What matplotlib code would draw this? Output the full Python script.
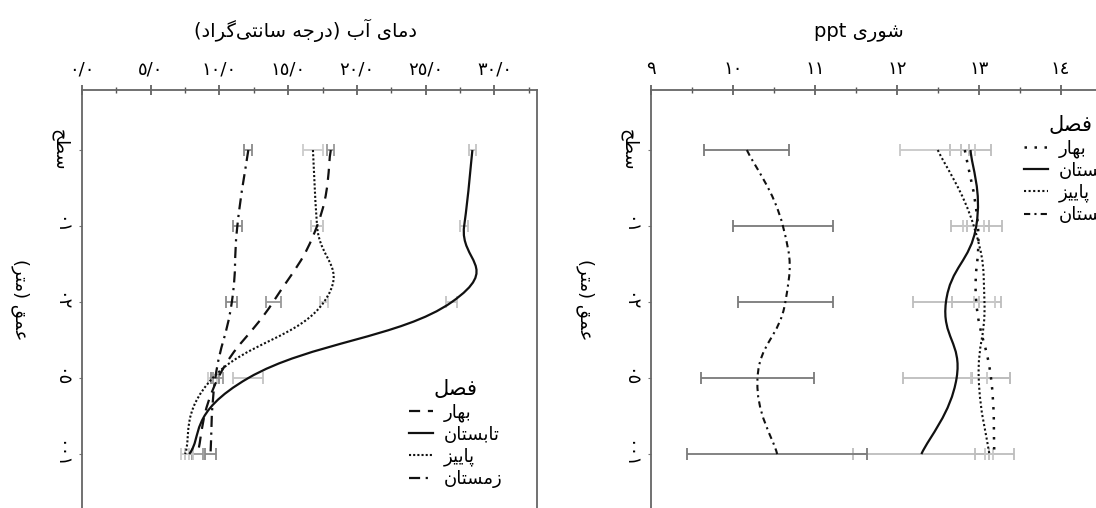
import re
import numpy as np
import matplotlib
matplotlib.use('Agg')
import matplotlib.pyplot as plt
from matplotlib.path import Path
from matplotlib.patches import PathPatch
from matplotlib.lines import Line2D
from matplotlib.ticker import MultipleLocator

plt.rcParams['font.family'] = ['DejaVu Sans']

# depth categories (top to bottom)
depths = ['سطح', '١٠', '٢٠', '٥٠', '١٠٠']
seasons = ['بهار', 'تابستان', 'پاییز', 'زمستان']

# water temperature (C)
temp_spring = [18.1, 17.1, 13.9, 9.9, 8.4]
temp_summer = [28.4, 27.8, 26.9, 12.1, 7.8]
temp_autumn = [16.8, 17.1, 17.6, 9.5, 7.5]
temp_winter = [12.1, 11.3, 10.9, 9.7, 9.35]
temp_spring_err = [0.25, 0.45, 0.55, 0.35, 0.4]
temp_summer_err = [0.25, 0.3, 0.4, 1.1, 0.3]
temp_autumn_err = [0.7, 0.45, 0.3, 0.3, 0.3]
temp_winter_err = [0.3, 0.35, 0.4, 0.3, 0.4]
temp_ticks = [0, 5, 10, 15, 20, 25, 30]
temp_labels = ['٠/٠', '٥/٠', '١٠/٠', '١٥/٠', '٢٠/٠', '٢٥/٠', '٣٠/٠']

# salinity (ppt)
sal_spring = [12.83, 12.99, 12.97, 13.15, 13.19]
sal_summer = [12.90, 12.97, 12.60, 12.73, 12.30]
sal_autumn = [12.50, 12.94, 13.07, 13.00, 13.13]
sal_winter = [10.17, 10.61, 10.64, 10.30, 10.54]
sal_spring_err = [0.05, 0.13, 0.3, 0.23, 0.24]
sal_summer_err = [0.25, 0.31, 0.4, 0.65, 0.83]
sal_autumn_err = [0.46, 0.13, 0.13, 0.1, 0.05]
sal_winter_err = [0.52, 0.61, 0.58, 0.69, 1.1]
sal_ticks = [9, 10, 11, 12, 13, 14]
sal_labels = ['٩', '١٠', '١١', '١٢', '١٣', '١٤']

# persian letters -> (isolated, final, initial, medial)
FORMS = {
    'ا': ('\uFE8D', '\uFE8E', None, None),
    'آ': ('\uFE81', '\uFE82', None, None),
    'ب': ('\uFE8F', '\uFE90', '\uFE91', '\uFE92'),
    'پ': ('\uFB56', '\uFB57', '\uFB58', '\uFB59'),
    'ت': ('\uFE95', '\uFE96', '\uFE97', '\uFE98'),
    'ج': ('\uFE9D', '\uFE9E', '\uFE9F', '\uFEA0'),
    'ح': ('\uFEA1', '\uFEA2', '\uFEA3', '\uFEA4'),
    'د': ('\uFEA9', '\uFEAA', None, None),
    'ر': ('\uFEAD', '\uFEAE', None, None),
    'ز': ('\uFEAF', '\uFEB0', None, None),
    'س': ('\uFEB1', '\uFEB2', '\uFEB3', '\uFEB4'),
    'ش': ('\uFEB5', '\uFEB6', '\uFEB7', '\uFEB8'),
    'ص': ('\uFEB9', '\uFEBA', '\uFEBB', '\uFEBC'),
    'ط': ('\uFEC1', '\uFEC2', '\uFEC3', '\uFEC4'),
    'ع': ('\uFEC9', '\uFECA', '\uFECB', '\uFECC'),
    'ف': ('\uFED1', '\uFED2', '\uFED3', '\uFED4'),
    'ق': ('\uFED5', '\uFED6', '\uFED7', '\uFED8'),
    'گ': ('\uFB92', '\uFB93', '\uFB94', '\uFB95'),
    'ل': ('\uFEDD', '\uFEDE', '\uFEDF', '\uFEE0'),
    'م': ('\uFEE1', '\uFEE2', '\uFEE3', '\uFEE4'),
    'ن': ('\uFEE5', '\uFEE6', '\uFEE7', '\uFEE8'),
    'ه': ('\uFEE9', '\uFEEA', '\uFEEB', '\uFEEC'),
    'و': ('\uFEED', '\uFEEE', None, None),
    'ی': ('\uFBFC', '\uFBFD', '\uFBFE', '\uFBFF'),
}


def fa(s):
    '''shape persian text and put it in visual order (no bidi lib here)'''
    out = []
    for i, c in enumerate(s):
        if c not in FORMS:
            out.append(c)
            continue
        p = s[i - 1] if i > 0 else ''
        n = s[i + 1] if i + 1 < len(s) else ''
        jp = p in FORMS and FORMS[p][2] is not None
        jn = n in FORMS and FORMS[c][2] is not None
        iso, fin, ini, med = FORMS[c]
        if jp and jn:
            out.append(med)
        elif jp:
            out.append(fin)
        elif jn:
            out.append(ini)
        else:
            out.append(iso)
    vis = ''.join(out).replace('\u200c', '')[::-1]
    vis = vis.translate(str.maketrans('()', ')('))
    vis = re.sub(r'[A-Za-z0-9]+', lambda m: m.group(0)[::-1], vis)
    return vis


def smooth(ax, xs, ys, k=1.4, **kw):
    '''excel-like smoothed line through the points (bezier segments)'''
    pts = np.column_stack([xs, ys]).astype(float)
    n = len(pts)
    verts = [pts[0]]
    codes = [Path.MOVETO]
    for i in range(n - 1):
        p0 = pts[max(i - 1, 0)]
        p1 = pts[i]
        p2 = pts[i + 1]
        p3 = pts[min(i + 2, n - 1)]
        verts += [p1 + k * (p2 - p0) / 6, p2 - k * (p3 - p1) / 6, p2]
        codes += [Path.CURVE4] * 3
    ax.add_patch(PathPatch(Path(verts, codes), fill=False, **kw))


W, H = 1096, 508
fig = plt.figure(figsize=(W / 100, H / 100), dpi=100)
ypos = np.arange(len(depths))


def setup(ax, ticks, labels, minor, xlim):
    ax.set_xlim(*xlim)
    ax.set_ylim(4.71, -0.79)
    ax.xaxis.tick_top()
    ax.set_xticks(ticks)
    ax.set_xticklabels(labels, fontsize=13)
    ax.xaxis.set_minor_locator(MultipleLocator(minor))
    ax.set_yticks(ypos)
    ax.set_yticklabels([fa(d) for d in depths], rotation=270, fontsize=13,
                       va='center', ha='center')
    ax.tick_params(axis='x', which='major', direction='inout', length=7,
                   width=1.2, color='#555555', pad=5)
    ax.tick_params(axis='x', which='minor', direction='inout', length=4,
                   width=1, color='#555555')
    ax.tick_params(axis='y', direction='out', length=2, color='#777777', pad=14)
    for s in ['top', 'left', 'right']:
        ax.spines[s].set_color('#666666')
        ax.spines[s].set_linewidth(1.3)
    ax.spines['bottom'].set_visible(False)


styles_left = {
    'spring': dict(ls=(0, (5, 3.5)), lw=1.6),
    'summer': dict(ls='-', lw=1.6),
    'autumn': dict(ls=(0, (1, 1)), lw=1.5),
    'winter': dict(ls=(0, (5, 2.5, 1, 2.5)), lw=1.6),
}
styles_right = {
    'spring': dict(ls=(0, (1, 3)), lw=1.8),
    'summer': dict(ls='-', lw=1.6),
    'autumn': dict(ls=(0, (1, 1.2)), lw=1.5),
    'winter': dict(ls=(0, (3, 2, 1, 2)), lw=1.5),
}

leg_kw = dict(bbox_transform=fig.transFigure, frameon=False, fontsize=13,
              title_fontsize=15, handlelength=1.3, handletextpad=0.6,
              labelspacing=0.22, borderpad=0, loc='upper left')

# ---- left: temperature
ax1 = fig.add_axes([82 / W, 0, 455 / W, 1 - 90 / H])
setup(ax1, temp_ticks, temp_labels, 2.5, (0, 33.1))
ax1.spines['right'].set_visible(True)

left_series = [
    ('spring', temp_spring, temp_spring_err, '#999999'),
    ('summer', temp_summer, temp_summer_err, '#c4c4c4'),
    ('autumn', temp_autumn, temp_autumn_err, '#cccccc'),
    ('winter', temp_winter, temp_winter_err, '#8a8a8a'),
]
for key, vals, err, ec in left_series:
    ax1.errorbar(vals, ypos, xerr=err, fmt='none', ecolor=ec, elinewidth=1.3,
                 capsize=4, capthick=1.3, zorder=2)
for key, vals, err, ec in left_series:
    smooth(ax1, vals, ypos, ec='#111111', zorder=3, **styles_left[key])

h1 = [Line2D([], [], color='#111111', **styles_left[k]) for k, *_ in left_series]
ax1.legend(h1, [fa(s) for s in seasons], title=fa('فصل'),
           bbox_to_anchor=(400 / W, 1 - 370 / H), **leg_kw)

fig.text(305 / W, 1 - 30 / H, fa('دمای آب (درجه سانتی\u200cگراد)'),
         ha='center', va='center', fontsize=14)
fig.text(20 / W, 1 - 300 / H, fa('عمق (متر)'), rotation=270,
         ha='center', va='center', fontsize=13)

# ---- right: salinity
ax2 = fig.add_axes([651 / W, 0, 467 / W, 1 - 90 / H])
setup(ax2, sal_ticks, sal_labels, 0.5, (9, 14.7))
ax2.spines['right'].set_visible(False)

right_series = [
    ('spring', sal_spring, sal_spring_err, '#bdbdbd'),
    ('summer', sal_summer, sal_summer_err, '#bdbdbd'),
    ('autumn', sal_autumn, sal_autumn_err, '#c8c8c8'),
    ('winter', sal_winter, sal_winter_err, '#7a7a7a'),
]
for key, vals, err, ec in right_series:
    ax2.errorbar(vals, ypos, xerr=err, fmt='none', ecolor=ec, elinewidth=1.3,
                 capsize=4.5, capthick=1.3, zorder=2)
for key, vals, err, ec in right_series:
    smooth(ax2, vals, ypos, ec='#111111', zorder=3, **styles_right[key])

h2 = [Line2D([], [], color='#111111', **styles_right[k]) for k, *_ in right_series]
ax2.legend(h2, [fa(s) for s in seasons], title=fa('فصل'),
           bbox_to_anchor=(1015 / W, 1 - 106 / H), **leg_kw)

fig.text(859 / W, 1 - 33 / H, fa('شوری ppt'), ha='center', va='center',
         fontsize=14)
fig.text(585 / W, 1 - 300 / H, fa('عمق (متر)'), rotation=270,
         ha='center', va='center', fontsize=13)

fig.savefig('out.png', dpi=100)
plt.close()
